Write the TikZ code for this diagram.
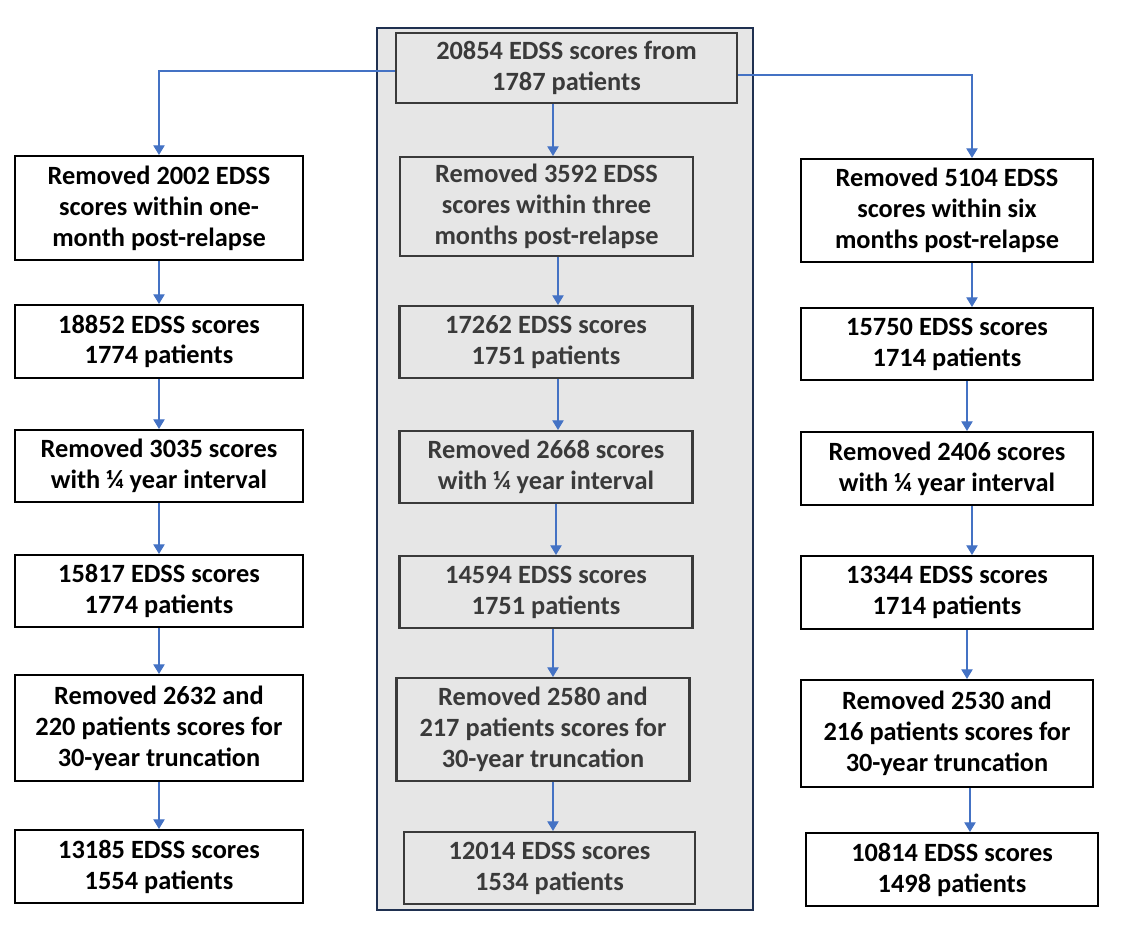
\documentclass[tikz,border=0pt]{standalone}
\usepackage{fontspec}
\setmainfont{Carlito}
\usetikzlibrary{arrows.meta}
\usetikzlibrary{positioning}
\definecolor{arrblue}{HTML}{4472C4}
\definecolor{framenavy}{HTML}{1F3050}
\definecolor{panelgray}{HTML}{E6E6E6}
\definecolor{midtext}{HTML}{3A3A3A}

\begin{document}
\begin{tikzpicture}[x=0.02cm, y=-0.02cm,
    sidebox/.style={draw=black, line width=1.2pt, fill=white, align=center, font=\fontsize{15}{17.6}\selectfont\bfseries, minimum width=5.76cm, minimum height=1.44cm, inner sep=2pt},
    midbox/.style={sidebox, draw=midtext, fill=none, text=midtext, minimum width=5.86cm},
    arr/.style={-{Triangle[width=6.5pt,length=5.5pt]}, draw=arrblue, line width=0.6pt}]
            \useasboundingbox (0,0) rectangle (1133,951);
            % middle panel (three-month window)
            \draw[framenavy, line width=1.4pt, fill=panelgray] (377,28) rectangle (753,910);

            \node[midbox, minimum width=6.82cm, minimum height=1.4cm] (start) at (566.5,68) {20854 EDSS scores from\\1787 patients};

            % one-month window
            \node[sidebox, minimum height=2.08cm] (l1) at (159,208) {Removed 2002 EDSS\\scores within one-\\month post-relapse};
            \node[sidebox, minimum height=1.46cm] (l2) at (159,341.5) {18852 EDSS scores\\1774 patients};
            \node[sidebox] (l3) at (159,466) {Removed 3035 scores\\with ¼ year interval};
            \node[sidebox] (l4) at (159,591) {15817 EDSS scores\\1774 patients};
            \node[sidebox, minimum height=2.12cm] (l5) at (159,728) {Removed 2632 and\\220 patients scores for\\30-year truncation};
            \node[sidebox, minimum height=1.46cm] (l6) at (159,866.5) {13185 EDSS scores\\1554 patients};

            % three-month window
            \node[midbox, minimum height=1.98cm] (c1) at (546.5,206.5) {Removed 3592 EDSS\\scores within three\\months post-relapse};
            \node[midbox] (c2) at (546,342) {17262 EDSS scores\\1751 patients};
            \node[midbox] (c3) at (546,467) {Removed 2668 scores\\with ¼ year interval};
            \node[midbox] (c4) at (546,592) {14594 EDSS scores\\1751 patients};
            \node[midbox, minimum height=2.06cm] (c5) at (543,729.5) {Removed 2580 and\\217 patients scores for\\30-year truncation};
            \node[midbox, minimum width=5.82cm] (c6) at (549.5,868) {12014 EDSS scores\\1534 patients};

            % six-month window
            \node[sidebox, minimum width=5.84cm, minimum height=2.06cm] (r1) at (947,210.5) {Removed 5104 EDSS\\scores within six\\months post-relapse};
            \node[sidebox, minimum width=5.84cm] (r2) at (947,344) {15750 EDSS scores\\1714 patients};
            \node[sidebox, minimum width=5.84cm, minimum height=1.46cm] (r3) at (947,468.5) {Removed 2406 scores\\with ¼ year interval};
            \node[sidebox, minimum width=5.84cm, minimum height=1.46cm] (r4) at (947,592.5) {13344 EDSS scores\\1714 patients};
            \node[sidebox, minimum width=5.84cm, minimum height=2.14cm] (r5) at (947,733.5) {Removed 2530 and\\216 patients scores for\\30-year truncation};
            \node[sidebox, minimum width=5.84cm, minimum height=1.46cm] (r6) at (952,869.5) {10814 EDSS scores\\1498 patients};

            \draw[arr] ([yshift=-0.06cm]start.west) -| (l1.north);
            \draw[arr] ([yshift=-0.14cm]start.east) -| ([xshift=0.5cm]r1.north);
            \draw[arr] ([xshift=0.13cm]start.south -| c1.north) -- ([xshift=0.13cm]c1.north);

            \draw[arr] (l1) -- (l2);
            \draw[arr] (l2) -- (l3);
            \draw[arr] (l3) -- (l4);
            \draw[arr] (l4) -- (l5);
            \draw[arr] (l5) -- (l6);

            \draw[arr] ([xshift=0.23cm]c1.south) -- ([xshift=0.23cm]c1.south |- c2.north);
            \draw[arr] ([xshift=0.24cm]c2.south) -- ([xshift=0.24cm]c2.south |- c3.north);
            \draw[arr] ([xshift=0.2cm]c3.south) -- ([xshift=0.2cm]c3.south |- c4.north);
            \draw[arr] ([xshift=0.14cm]c4.south) -- ([xshift=0.14cm]c4.south |- c5.north);
            \draw[arr] ([xshift=0.2cm]c5.south) -- ([xshift=0.2cm]c5.south |- c6.north);

            \draw[arr] ([xshift=0.5cm]r1.south) -- ([xshift=0.5cm]r1.south |- r2.north);
            \draw[arr] ([xshift=0.4cm]r2.south) -- ([xshift=0.4cm]r2.south |- r3.north);
            \draw[arr] ([xshift=0.5cm]r3.south) -- ([xshift=0.5cm]r3.south |- r4.north);
            \draw[arr] ([xshift=0.4cm]r4.south) -- ([xshift=0.4cm]r4.south |- r5.north);
            \draw[arr] ([xshift=0.46cm]r5.south) -- ([xshift=0.46cm]r5.south |- r6.north);
        \end{tikzpicture}
\end{document}
